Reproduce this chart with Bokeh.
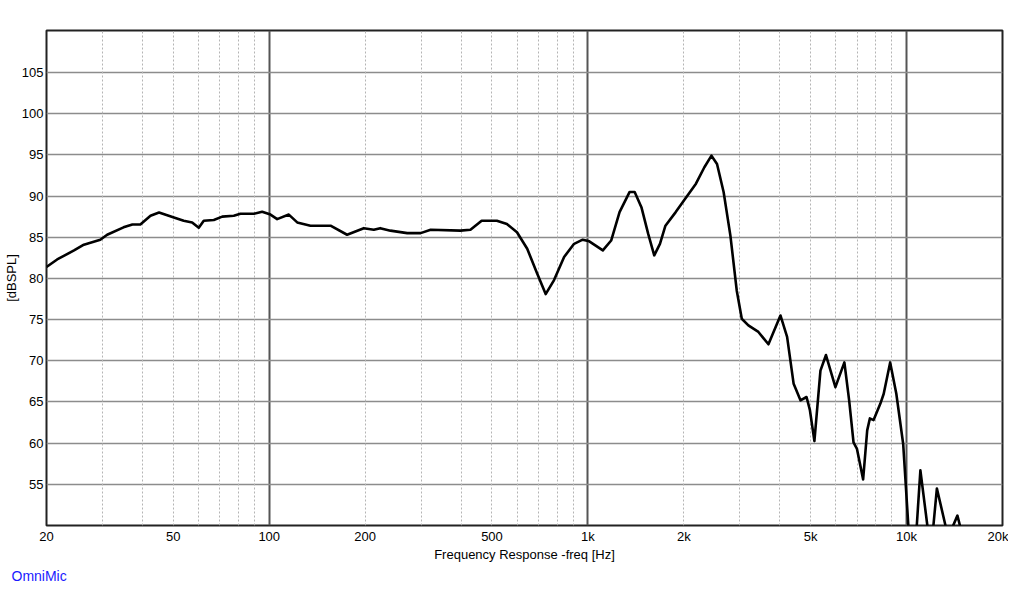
from bokeh.plotting import figure
from bokeh.models import FixedTicker, Grid, Range1d, Title
from bokeh.embed import file_html
from bokeh.resources import INLINE

# ---- data ----
freq_hz = [20, 21.6, 24.4, 26.2, 29.5, 31.0, 34.9, 37.2, 39.4, 42.4, 45.1, 50.2, 53.9, 57.3,
           60.1, 62.3, 67.0, 71.2, 77.4, 81.2, 89.5, 95.0, 100.9, 105.9, 115.2, 122.4, 134.7,
           155.7, 175.5, 198, 212.9, 223, 240, 271, 298.6, 321, 398, 428, 464, 518, 557, 599,
           645, 693, 737, 783, 842, 905, 963, 1010, 1114, 1183, 1257, 1352, 1402, 1472, 1546,
           1615, 1683, 1751, 1886, 2004, 2183, 2320, 2442, 2542, 2666, 2800, 2932, 3040, 3188,
           3428, 3686, 4020, 4218, 4422, 4646, 4854, 4974, 5138, 5367, 5586, 5980, 6380, 6604,
           6816, 6988, 7306, 7524, 7670, 7880, 8276, 8478, 8882, 9286, 9758, 10128, 10430,
           10766, 11050, 11620, 11880, 12140, 12450, 13244, 13600, 14004, 14440, 14706, 15000]
spl_db = [81.4, 82.3, 83.4, 84.1, 84.7, 85.3, 86.2, 86.55, 86.55, 87.6, 88.0, 87.4, 87.0, 86.8,
          86.15, 87.0, 87.1, 87.5, 87.6, 87.85, 87.85, 88.1, 87.75, 87.2, 87.75, 86.8, 86.4,
          86.4, 85.3, 86.1, 85.9, 86.1, 85.8, 85.5, 85.5, 85.9, 85.8, 85.9, 87.0, 87.0, 86.6, 85.6,
          83.6, 80.6, 78.1, 79.8, 82.6, 84.2, 84.7, 84.5, 83.4, 84.6, 88.05, 90.5, 90.5, 88.65, 85.4,
          82.8, 84.2, 86.4, 88.05, 89.5, 91.5, 93.5, 94.9, 93.9, 90.5, 85.2, 78.5, 75.1, 74.3,
          73.5, 72.0, 75.5, 72.9, 67.2, 65.2, 65.6, 64.0, 60.25, 68.8, 70.7, 66.8, 69.8, 65.2,
          60.1, 59.3, 55.6, 61.55, 63.0, 62.8, 64.8, 66.0, 69.8, 66.0, 59.9, 50.0, 42.0,
          50.0, 56.7, 50.0, 46.0, 50.0, 54.5, 50.0, 46.0, 50.0, 51.2, 50.0, 47.0]

x_ticks = [20, 50, 100, 200, 500, 1000, 2000, 5000, 10000, 20000]
x_tick_labels = ["20", "50", "100", "200", "500", "1k", "2k", "5k", "10k", "20k"]
decade_lines = [100, 1000, 10000]
minor_lines = [30, 40, 50, 60, 70, 80, 90,
               200, 300, 400, 500, 600, 700, 800, 900,
               2000, 3000, 4000, 5000, 6000, 7000, 8000, 9000]
y_ticks = [55, 60, 65, 70, 75, 80, 85, 90, 95, 100, 105]

FONT = "Liberation Sans"

p = figure(width=1008, height=584, x_axis_type="log",
           x_range=Range1d(20, 20000), y_range=Range1d(50, 110.1),
           output_backend="svg", toolbar_location=None,
           min_border_left=46, min_border_right=6, min_border_top=30, min_border_bottom=59,
           background_fill_color="white", border_fill_color="white")

p.outline_line_color = "#222222"
p.outline_line_width = 2

# grids
p.ygrid.ticker = FixedTicker(ticks=y_ticks)
p.ygrid.grid_line_color = "#8c8c8c"
p.ygrid.grid_line_width = 1.5
p.xgrid.ticker = FixedTicker(ticks=decade_lines)
p.xgrid.grid_line_color = "#555555"
p.xgrid.grid_line_width = 2
minor_grid = Grid(dimension=0, ticker=FixedTicker(ticks=minor_lines),
                  grid_line_color="#b4b4b4", grid_line_width=1, grid_line_dash="2 2")
p.add_layout(minor_grid)

# axes
for ax in (p.xaxis[0], p.yaxis[0]):
    ax.axis_line_color = None
    ax.major_tick_line_color = None
    ax.minor_tick_line_color = None
    ax.major_tick_out = 0
    ax.major_tick_in = 0
    ax.minor_tick_out = 0
    ax.minor_tick_in = 0
    ax.major_label_text_font = FONT
    ax.major_label_text_font_size = "13px"
    ax.major_label_text_color = "black"
    ax.axis_label_text_font = FONT
    ax.axis_label_text_font_size = "13px"
    ax.axis_label_text_font_style = "normal"
    ax.axis_label_text_color = "black"

p.xaxis.ticker = FixedTicker(ticks=x_ticks)
p.xaxis.major_label_overrides = {t: l for t, l in zip(x_ticks, x_tick_labels)}
p.xaxis.major_label_standoff = 3
p.xaxis.axis_label = "Frequency Response -freq [Hz]"
p.xaxis.axis_label_standoff = 0

p.yaxis.ticker = FixedTicker(ticks=y_ticks)
p.yaxis.major_label_standoff = 3
p.yaxis.axis_label = "[dBSPL]"
p.yaxis.axis_label_standoff = 0

p.line(freq_hz, spl_db, line_color="black", line_width=2.6, line_join="round")

p.add_layout(Title(text="OmniMic", align="left", offset=-35, standoff=2,
                   text_color="#1a1aff", text_font=FONT, text_font_size="14px",
                   text_font_style="normal"), "below")

open("out.html", "w").write(file_html(p, INLINE))
